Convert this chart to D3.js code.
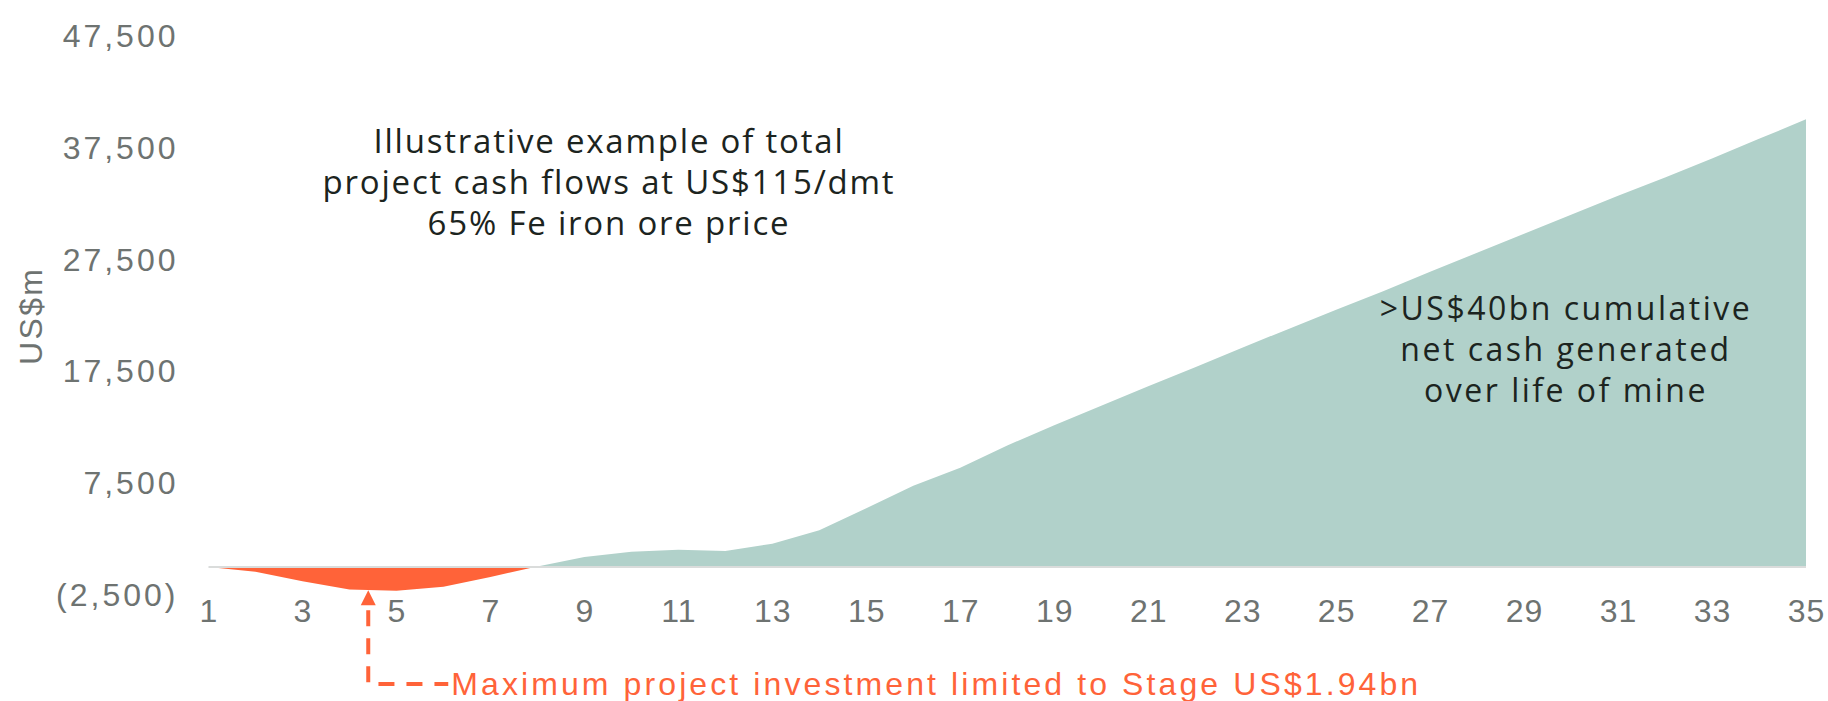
<!DOCTYPE html>
<html>
<head>
<meta charset="utf-8">
<script src="https://cdn.jsdelivr.net/npm/d3@7"></script>
<style>
  body { margin: 0; background: #ffffff; }
  .axis text { font-family: "Liberation Sans", Arial, sans-serif; fill: #6e7371; }
  .note { font-family: "Open Sans", sans-serif; fill: #1c2420; }
</style>
</head>
<body>
<div id="chart-container"></div>
<script>
// project year and cumulative net cash (US$m)
const years = [1, 2, 3, 4, 5, 6, 7, 8, 9, 10, 11, 12, 13, 14, 15, 16, 17, 18,
  19, 20, 21, 22, 23, 24, 25, 26, 27, 28, 29, 30, 31, 32, 33, 34, 35];
const cumulativeCash = [0, -420, -1260, -2000, -2120, -1760, -880, 60, 900,
  1380, 1560, 1430, 2100, 3300, 5260, 7280, 8900, 10900, 12700, 14450, 16200,
  17900, 19650, 21350, 23050, 24700, 26450, 28150, 29850, 31550, 33250, 34900,
  36600, 38350, 40100];

const xTickValues = [1, 3, 5, 7, 9, 11, 13, 15, 17, 19, 21, 23, 25, 27, 29, 31, 33, 35];
const yTickValues = [-2500, 7500, 17500, 27500, 37500, 47500];

const titleLines = [
  "Illustrative example of total",
  "project cash flows at US$115/dmt",
  "65% Fe iron ore price",
];
const noteLines = [
  ">US$40bn cumulative",
  "net cash generated",
  "over life of mine",
];
const investmentNote = "Maximum project investment limited to Stage US$1.94bn";
const investmentPoint = { year: 4.4, value: -2070 };

const width = 1828;
const height = 701;
const orange = "#ff6339";
const teal = "#b1d1ca";

const data = years.map((y, i) => ({ year: y, value: cumulativeCash[i] }));

const svg = d3
  .select("#chart-container")
  .append("svg")
  .attr("width", width)
  .attr("height", height);

const xScale = d3.scaleLinear().domain([1, 35]).range([208.5, 1806]);
const yScale = d3.scaleLinear().domain([-2500, 47500]).range([595, 36.7]);

const zeroY = yScale(0);

// clip the single series into a negative (orange) and positive (teal) part
const defs = svg.append("defs");
defs
  .append("clipPath")
  .attr("id", "clip-pos")
  .append("rect")
  .attr("x", 0)
  .attr("y", 0)
  .attr("width", width)
  .attr("height", zeroY);
defs
  .append("clipPath")
  .attr("id", "clip-neg")
  .append("rect")
  .attr("x", 0)
  .attr("y", zeroY)
  .attr("width", width)
  .attr("height", height - zeroY);

const areaGenerator = d3
  .area()
  .x((d) => xScale(d.year))
  .y0(zeroY)
  .y1((d) => yScale(d.value));

svg
  .append("path")
  .datum(data)
  .attr("d", areaGenerator)
  .attr("fill", teal)
  .attr("clip-path", "url(#clip-pos)");

svg
  .append("path")
  .datum(data)
  .attr("d", areaGenerator)
  .attr("fill", orange)
  .attr("clip-path", "url(#clip-neg)");

// zero line
svg
  .append("line")
  .attr("x1", xScale(1))
  .attr("x2", xScale(35))
  .attr("y1", zeroY)
  .attr("y2", zeroY)
  .attr("stroke", "#dadcdb")
  .attr("stroke-width", 2);

// axes
const fmtY = (v) => (v < 0 ? `(${d3.format(",")(-v)})` : d3.format(",")(v));

const xAxis = d3.axisBottom(xScale).tickValues(xTickValues).tickSize(0).tickPadding(4.5);
const yAxis = d3.axisLeft(yScale).tickValues(yTickValues).tickSize(0).tickPadding(30).tickFormat(fmtY);

const xAxisGroup = svg
  .append("g")
  .attr("class", "axis x-axis")
  .attr("transform", `translate(0,${yScale(-2500)})`)
  .call(xAxis);
xAxisGroup.select(".domain").remove();
xAxisGroup.selectAll("text").style("font-size", "32px").style("letter-spacing", "1px");

const yAxisGroup = svg
  .append("g")
  .attr("class", "axis y-axis")
  .attr("transform", `translate(${xScale(1)},0)`)
  .call(yAxis);
yAxisGroup.select(".domain").remove();
yAxisGroup.selectAll("text").style("font-size", "32px").style("letter-spacing", "3px");

svg
  .append("text")
  .attr("class", "axis")
  .attr("transform", `translate(42,${yScale(22500)}) rotate(-90)`)
  .style("text-anchor", "middle")
  .style("font-family", '"Liberation Sans", Arial, sans-serif')
  .style("font-size", "32px")
  .style("letter-spacing", "2.3px")
  .style("fill", "#6e7371")
  .text("US$m");

// annotations
const title = svg
  .append("text")
  .attr("class", "note")
  .style("font-size", "33px")
  .style("letter-spacing", "1.8px")
  .style("text-anchor", "middle");
title
  .selectAll("tspan")
  .data(titleLines)
  .enter()
  .append("tspan")
  .attr("x", 609)
  .attr("y", (d, i) => 152.7 + i * 41.2)
  .text((d) => d);

const note = svg
  .append("text")
  .attr("class", "note")
  .style("font-size", "32px")
  .style("letter-spacing", "2.5px")
  .style("text-anchor", "middle");
note
  .selectAll("tspan")
  .data(noteLines)
  .enter()
  .append("tspan")
  .attr("x", 1566)
  .attr("y", (d, i) => 320 + i * 41)
  .text((d) => d);

// investment marker: arrow + dashed leader + label
const ax = xScale(investmentPoint.year);
const ay = yScale(investmentPoint.value);
svg
  .append("path")
  .attr("d", `M${ax},${ay} L${ax - 7.5},${ay + 15} L${ax + 7.5},${ay + 15} Z`)
  .attr("fill", orange);

const leaderY = 684;
svg
  .append("path")
  .attr("d", `M${ax},${ay + 20} L${ax},${leaderY} L${ax + 80},${leaderY}`)
  .attr("fill", "none")
  .attr("stroke", orange)
  .attr("stroke-width", 4)
  .attr("stroke-dasharray", "16,12");

svg
  .append("text")
  .attr("x", ax + 83)
  .attr("y", 695)
  .style("font-family", '"Liberation Sans", Arial, sans-serif')
  .style("font-size", "32px")
  .style("letter-spacing", "3.1px")
  .style("fill", orange)
  .text(investmentNote);
</script>
</body>
</html>
